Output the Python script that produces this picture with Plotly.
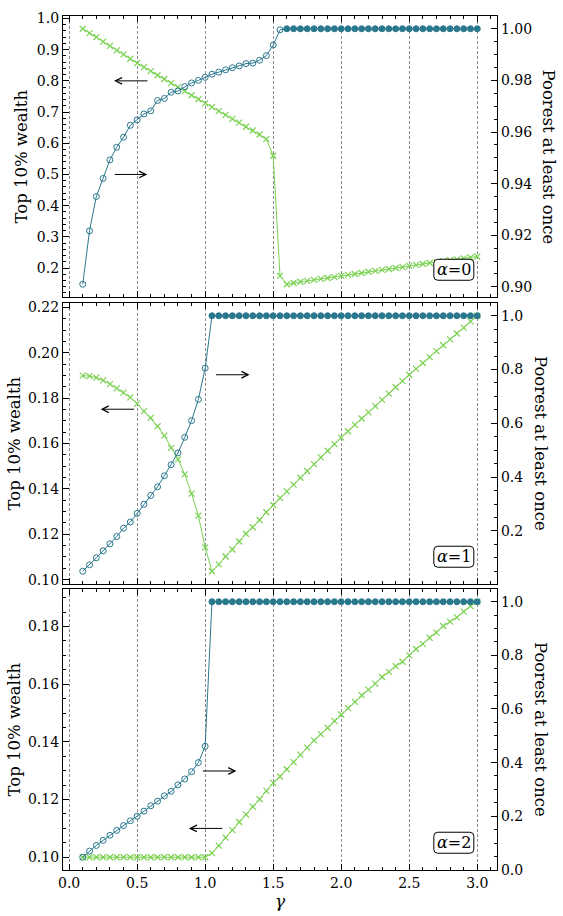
import plotly.graph_objects as go
from plotly.subplots import make_subplots

# ---------------- data ----------------
gamma = [0.10, 0.15, 0.20, 0.25, 0.30, 0.35, 0.40, 0.45, 0.50, 0.55,
         0.60, 0.65, 0.70, 0.75, 0.80, 0.85, 0.90, 0.95, 1.00, 1.05,
         1.10, 1.15, 1.20, 1.25, 1.30, 1.35, 1.40, 1.45, 1.50, 1.55,
         1.60, 1.65, 1.70, 1.75, 1.80, 1.85, 1.90, 1.95, 2.00, 2.05,
         2.10, 2.15, 2.20, 2.25, 2.30, 2.35, 2.40, 2.45, 2.50, 2.55,
         2.60, 2.65, 2.70, 2.75, 2.80, 2.85, 2.90, 2.95, 3.00]

# alpha = 0
top10_a0 = [0.967, 0.953, 0.940, 0.926, 0.912, 0.898, 0.885, 0.871, 0.857, 0.844,
            0.831, 0.818, 0.806, 0.793, 0.780, 0.767, 0.754, 0.741, 0.728, 0.716,
            0.703, 0.691, 0.678, 0.666, 0.653, 0.641, 0.628, 0.613, 0.560, 0.175,
            0.148, 0.152, 0.156, 0.159, 0.162, 0.165, 0.168, 0.171, 0.175, 0.178,
            0.181, 0.184, 0.188, 0.191, 0.194, 0.197, 0.200, 0.203, 0.207, 0.210,
            0.213, 0.216, 0.219, 0.222, 0.225, 0.228, 0.231, 0.234, 0.237]
poorest_a0 = [0.9010, 0.9217, 0.9350, 0.9420, 0.9492, 0.9541, 0.9580, 0.9626, 0.9647, 0.9670,
              0.9682, 0.9722, 0.9730, 0.9754, 0.9759, 0.9776, 0.9790, 0.9800, 0.9812, 0.9824,
              0.9832, 0.9841, 0.9849, 0.9856, 0.9865, 0.9867, 0.9878, 0.9896, 0.9937, 0.9996,
              1.0, 1.0, 1.0, 1.0, 1.0, 1.0, 1.0, 1.0, 1.0, 1.0,
              1.0, 1.0, 1.0, 1.0, 1.0, 1.0, 1.0, 1.0, 1.0, 1.0,
              1.0, 1.0, 1.0, 1.0, 1.0, 1.0, 1.0, 1.0, 1.0]

# alpha = 1
top10_a1 = [0.1899, 0.1897, 0.1890, 0.1878, 0.1862, 0.1843, 0.1824, 0.1803, 0.1776, 0.1743,
            0.1713, 0.1676, 0.1635, 0.1581, 0.1530, 0.1464, 0.1379, 0.1282, 0.1142, 0.1037,
            0.1067, 0.1102, 0.1133, 0.1168, 0.1202, 0.1231, 0.1263, 0.1297, 0.1329, 0.1360,
            0.1389, 0.1419, 0.1449, 0.1479, 0.1509, 0.1539, 0.1568, 0.1597, 0.1626, 0.1654,
            0.1682, 0.1710, 0.1737, 0.1765, 0.1792, 0.1820, 0.1848, 0.1875, 0.1903, 0.1929,
            0.1955, 0.1981, 0.2007, 0.2033, 0.2059, 0.2085, 0.2111, 0.2138, 0.2163]
poorest_a1 = [0.050, 0.074, 0.100, 0.126, 0.152, 0.179, 0.210, 0.233, 0.265, 0.299,
              0.332, 0.364, 0.405, 0.446, 0.490, 0.548, 0.610, 0.689, 0.805, 1.0,
              1.0, 1.0, 1.0, 1.0, 1.0, 1.0, 1.0, 1.0, 1.0, 1.0,
              1.0, 1.0, 1.0, 1.0, 1.0, 1.0, 1.0, 1.0, 1.0, 1.0,
              1.0, 1.0, 1.0, 1.0, 1.0, 1.0, 1.0, 1.0, 1.0, 1.0,
              1.0, 1.0, 1.0, 1.0, 1.0, 1.0, 1.0, 1.0, 1.0]

# alpha = 2
top10_a2 = [0.1000, 0.1000, 0.1000, 0.1000, 0.1000, 0.1000, 0.1000, 0.1000, 0.1000, 0.1000,
            0.1000, 0.1000, 0.1000, 0.1000, 0.1000, 0.1000, 0.1000, 0.1000, 0.1000, 0.1014,
            0.1040, 0.1068, 0.1094, 0.1122, 0.1148, 0.1175, 0.1201, 0.1230, 0.1258, 0.1280,
            0.1305, 0.1330, 0.1356, 0.1380, 0.1405, 0.1427, 0.1449, 0.1473, 0.1495, 0.1517,
            0.1539, 0.1562, 0.1581, 0.1602, 0.1625, 0.1643, 0.1663, 0.1678, 0.1700, 0.1722,
            0.1740, 0.1761, 0.1779, 0.1802, 0.1817, 0.1832, 0.1852, 0.1871, 0.1886]
poorest_a2 = [0.047, 0.070, 0.091, 0.110, 0.129, 0.147, 0.165, 0.183, 0.200, 0.219,
              0.239, 0.256, 0.276, 0.293, 0.317, 0.339, 0.366, 0.400, 0.461, 1.0,
              1.0, 1.0, 1.0, 1.0, 1.0, 1.0, 1.0, 1.0, 1.0, 1.0,
              1.0, 1.0, 1.0, 1.0, 1.0, 1.0, 1.0, 1.0, 1.0, 1.0,
              1.0, 1.0, 1.0, 1.0, 1.0, 1.0, 1.0, 1.0, 1.0, 1.0,
              1.0, 1.0, 1.0, 1.0, 1.0, 1.0, 1.0, 1.0, 1.0]

alpha_labels = ["0", "1", "2"]
x_ticks = [0.0, 0.5, 1.0, 1.5, 2.0, 2.5, 3.0]

# ---------------- style ----------------
BLUE = "#2A788E"
GREEN = "#7AD151"
FONT = "DejaVu Serif"
W, H = 563, 916
ML, MR, MT, MB = 63, 66, 10, 46
PW, PH = W - ML - MR, H - MT - MB

def pad(vals, frac=0.05):
    lo, hi = min(vals), max(vals)
    s = hi - lo
    return [lo - frac * s, hi + frac * s]

# panel pixel extents (top, bottom) measured from top of figure
panels_px = [(10, 293), (299, 582), (587, 870)]
domains = [[(H - MB - b) / PH, (H - MB - t) / PH] for t, b in panels_px]

fig = make_subplots(rows=3, cols=1, shared_xaxes=True,
                    specs=[[{"secondary_y": True}]] * 3, vertical_spacing=0.01)

tops = [top10_a0, top10_a1, top10_a2]
poors = [poorest_a0, poorest_a1, poorest_a2]

for i in range(3):
    fig.add_trace(go.Scatter(
        x=gamma, y=tops[i], mode="lines+markers",
        line=dict(color=GREEN, width=1),
        marker=dict(symbol="x-thin-open", size=6, color=GREEN, line=dict(width=1.2, color=GREEN)),
        showlegend=False), row=i + 1, col=1, secondary_y=False)
    fig.add_trace(go.Scatter(
        x=gamma, y=poors[i], mode="lines+markers",
        line=dict(color=BLUE, width=1),
        marker=dict(symbol=["circle" if v >= 1.0 else "circle-open" for v in poors[i]],
                    size=6, color=BLUE, line=dict(width=1, color=BLUE)),
        showlegend=False), row=i + 1, col=1, secondary_y=True)

xr = pad(gamma)
axis_common = dict(showline=True, linecolor="black", linewidth=1.3,
                   ticks="inside", ticklen=6, tickwidth=1, tickcolor="black",
                   zeroline=False, tickfont=dict(family=FONT, size=14, color="black"))

for i in range(3):
    xn = "xaxis" if i == 0 else f"xaxis{i + 1}"
    fig.layout[xn].update(
        range=xr, tickvals=x_ticks, tickformat=".1f", mirror="ticks",
        showgrid=True, gridcolor="#8c8c8c", gridwidth=0.8, griddash="3px,2px",
        minor=dict(ticks="inside", ticklen=3.3, dtick=0.1, tick0=0, tickcolor="black", showgrid=False),
        showticklabels=(i == 2), domain=[0, 1], **axis_common)

left_specs = [dict(dtick=0.1, fmt=".1f", minor=0.02),
              dict(dtick=0.02, fmt=".2f", minor=0.005),
              dict(dtick=0.02, fmt=".2f", minor=0.005)]
right_specs = [dict(dtick=0.02, fmt=".2f", minor=0.005),
               dict(dtick=0.2, fmt=".1f", minor=0.05),
               dict(dtick=0.2, fmt=".1f", minor=0.05)]

for i in range(3):
    yl = "yaxis" if i == 0 else f"yaxis{2 * i + 1}"
    yr = f"yaxis{2 * i + 2}"
    ls, rs = left_specs[i], right_specs[i]
    fig.layout[yl].update(
        range=pad(tops[i]), dtick=ls["dtick"], tick0=0, tickformat=ls["fmt"],
        minor=dict(ticks="inside", ticklen=3.3, dtick=ls["minor"], tick0=0, tickcolor="black"),
        showgrid=False, domain=domains[i], mirror=False, **axis_common)
    fig.layout[yr].update(
        range=pad(poors[i]), dtick=rs["dtick"], tick0=0, tickformat=rs["fmt"],
        minor=dict(ticks="inside", ticklen=3.3, dtick=rs["minor"], tick0=0, tickcolor="black"),
        showgrid=False, side="right", domain=domains[i], **axis_common)

annotations = []
shapes = []
left_title_px = [22, 14, 14]
right_title_px = [548, 540.5, 540.5]
for i in range(3):
    yc = (domains[i][0] + domains[i][1]) / 2
    annotations.append(dict(text="Top 10% wealth", xref="paper", yref="paper",
                            x=(left_title_px[i] - ML) / PW, y=yc, textangle=-90,
                            showarrow=False, xanchor="center", yanchor="middle",
                            font=dict(family=FONT, size=16.5, color="black")))
    annotations.append(dict(text="Poorest at least once", xref="paper", yref="paper",
                            x=(right_title_px[i] - ML) / PW, y=yc, textangle=90,
                            showarrow=False, xanchor="center", yanchor="middle",
                            font=dict(family=FONT, size=16.5, color="black")))
    # alpha box
    xa = "x" if i == 0 else f"x{i + 1}"
    ya = "y" if i == 0 else f"y{2 * i + 1}"
    bx, by = 0.9005, 0.097
    shapes.append(dict(type="path", xref=f"{xa} domain", yref=f"{ya} domain",
                       xsizemode="pixel", ysizemode="pixel", xanchor=bx, yanchor=by,
                       path="M -16,-10.5 L 16,-10.5 Q 20,-10.5 20,-6.5 L 20,6.5 Q 20,10.5 16,10.5 "
                            "L -16,10.5 Q -20,10.5 -20,6.5 L -20,-6.5 Q -20,-10.5 -16,-10.5 Z",
                       line=dict(color="black", width=1), fillcolor="white", layer="above"))
    annotations.append(dict(text=f"<i>α</i>={alpha_labels[i]}", xref=f"{xa} domain",
                            yref=f"{ya} domain", x=bx, y=by, showarrow=False,
                            xanchor="center", yanchor="middle",
                            font=dict(family=FONT, size=16, color="black")))

# arrows: (panel, head x, head y on left axis, tail offset px)
arrows = [(0, 0.33, 0.80, 35), (0, 0.574, 0.50, -34),
          (1, 0.232, 0.1751, 35), (1, 1.326, 0.1903, -35),
          (2, 1.229, 0.1299, -35), (2, 0.880, 0.1100, 35)]
for p, hx, hy, off in arrows:
    xa = "x" if p == 0 else f"x{p + 1}"
    ya = "y" if p == 0 else f"y{2 * p + 1}"
    annotations.append(dict(text="", x=hx, y=hy, xref=xa, yref=ya, ax=off, ay=0,
                            showarrow=True, arrowhead=5, arrowsize=1.3, arrowwidth=1,
                            arrowcolor="black", standoff=0, startstandoff=0))

annotations.append(dict(text="<i>γ</i>", xref="paper", yref="paper", x=(280 - ML) / PW,
                        y=-(901 - (H - MB)) / PH, showarrow=False, xanchor="center",
                        yanchor="middle", font=dict(family=FONT, size=17, color="black")))

fig.update_layout(width=W, height=H, margin=dict(l=ML, r=MR, t=MT, b=MB),
                  plot_bgcolor="white", paper_bgcolor="white",
                  font=dict(family=FONT, size=14, color="black"),
                  showlegend=False, annotations=annotations, shapes=shapes)

fig.write_html("out.html")
